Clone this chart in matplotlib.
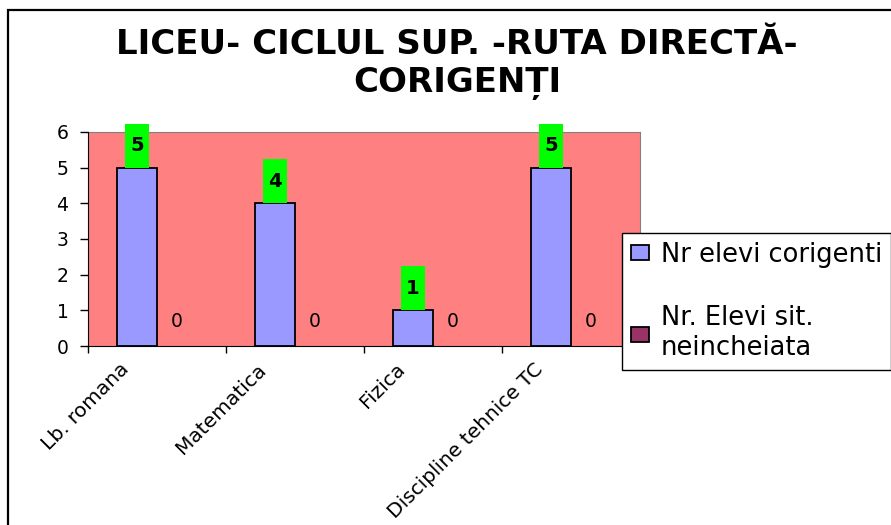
import numpy as np
import matplotlib
matplotlib.use("Agg")
import matplotlib.pyplot as plt
from matplotlib.patches import Rectangle
from matplotlib.transforms import ScaledTranslation

# data
subjects = ["Lb. romana", "Matematica", "Fizica", "Discipline tehnice TC"]
corigenti = [5, 4, 1, 5]
neincheiata = [0, 0, 0, 0]
series_names = ["Nr elevi corigenti", "Nr. Elevi sit.\nneincheiata"]
title = "LICEU- CICLUL SUP. -RUTA DIRECTĂ-\nCORIGENȚI"

W, H = 891, 525
fig = plt.figure(figsize=(W / 100, H / 100), dpi=100)
fig.patch.set_facecolor("white")

# chart frame (runs off the right and bottom edge)
fig.patches.append(Rectangle((8 / W, -0.2), 1.3, 1.2 - 10 / H, transform=fig.transFigure,
                             fill=False, edgecolor="black", linewidth=1.6))

ax = fig.add_axes([88 / W, 1 - 346 / H, (640 - 88) / W, (346 - 132) / H])
ax.set_facecolor("#FF8080")

x = np.arange(len(subjects))
bw = 0.29
ax.bar(x - bw / 2, corigenti, bw, color="#9999FF", edgecolor="black", linewidth=1.3,
       label=series_names[0], zorder=3)
ax.bar(x + bw / 2, neincheiata, bw, color="#993366", edgecolor="none", linewidth=0,
       label=series_names[1], zorder=1)

# value labels: green boxes on the first series, plain text on the second
box_w, box_h = 0.175, 1.23
for xi, v in zip(x - bw / 2, corigenti):
    ax.bar(xi, box_h, box_w, bottom=v, color="#00FF00", zorder=4, clip_on=False)
    ax.text(xi, v + box_h / 2, str(v), ha="center", va="center", fontsize=14,
            fontweight="bold", zorder=5, clip_on=False)
for xi, v in zip(x + bw / 2, neincheiata):
    ax.annotate(str(v), (xi, v), xytext=(0, 11), textcoords="offset points",
                ha="center", va="bottom", fontsize=13.5, zorder=5)

ax.set_xlim(-0.5, len(subjects) - 0.5)
ax.set_ylim(0, 6)
ax.set_yticks(range(7))
ax.tick_params(axis="y", direction="out", length=6, width=1, pad=8, labelsize=13.5)

# tick marks between categories, labels at category centres
ax.set_xticks(x, subjects)
ax.set_xticks(np.arange(len(subjects) + 1) - 0.5, minor=True)
ax.tick_params(axis="x", which="major", length=0, pad=10, labelsize=14.5)
ax.tick_params(axis="x", which="minor", direction="out", length=5, width=1)
shift = ScaledTranslation(-0.38, 0, fig.dpi_scale_trans)
for lab in ax.get_xticklabels():
    lab.set_rotation(45)
    lab.set_ha("right")
    lab.set_va("top")
    lab.set_rotation_mode("anchor")
    lab.set_transform(lab.get_transform() + shift)

for side in ["top", "right"]:
    ax.spines[side].set_color("#808080")
for side in ["left", "bottom"]:
    ax.spines[side].set_color("black")
    ax.spines[side].set_zorder(6)

fig.text(457 / W, 1 - 64 / H, title, ha="center", va="center", fontsize=24.5,
         fontweight="bold", linespacing=1.2)

leg = fig.legend(loc="upper left", bbox_to_anchor=(622 / W, 1 - 233 / H), fontsize=18.5,
                 frameon=True, fancybox=False, edgecolor="black", framealpha=1,
                 borderpad=0.35, labelspacing=1.45, handlelength=0.72, handleheight=0.52,
                 handletextpad=0.45, borderaxespad=0)
leg.get_frame().set_linewidth(1)
for p in leg.get_patches():
    p.set_edgecolor("black")
    p.set_linewidth(1.3)

fig.savefig("out.png", dpi=100)
